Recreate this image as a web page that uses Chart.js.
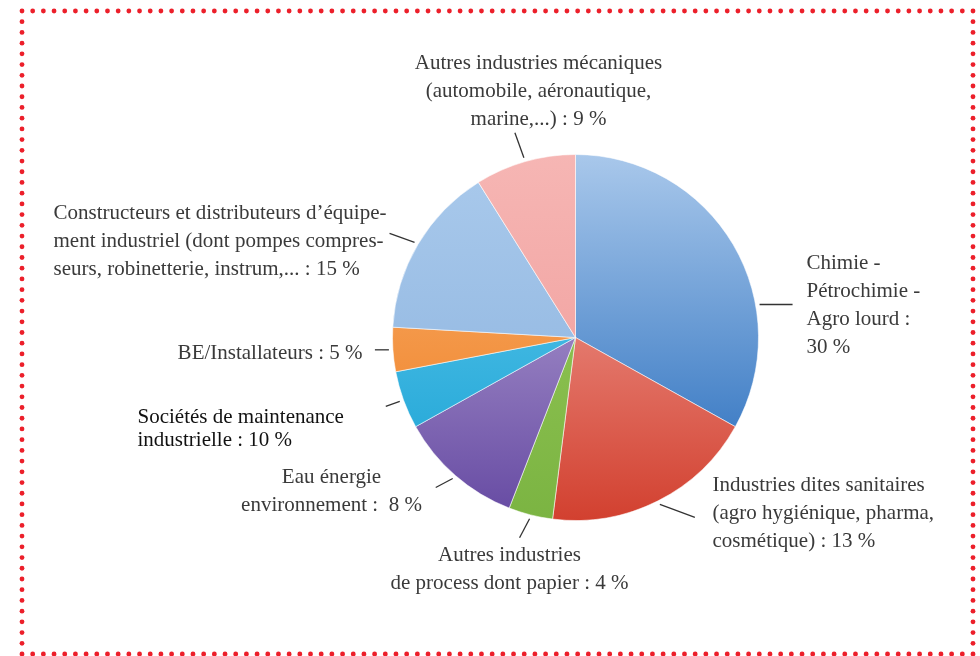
<!DOCTYPE html>
<html>
<head>
<meta charset="utf-8">
<script src="https://cdn.jsdelivr.net/npm/chart.js@4.4.1/dist/chart.umd.min.js"></script>
<style>
  html, body { margin: 0; padding: 0; background: #fff; }
  #wrap { position: relative; width: 980px; height: 656px; }
</style>
</head>
<body>
<div id="wrap"><canvas id="graficoSecteurs"></canvas></div>
<script>
const secteurs = [
    'Chimie - Pétrochimie - Agro lourd',
    'Industries dites sanitaires',
    'Autres industries de process',
    'Eau énergie environnement',
    'Sociétés de maintenance industrielle',
    'BE/Installateurs',
    "Constructeurs et distributeurs d'équipement industriel",
    'Autres industries mécaniques'
]
const parts = [33.1, 18.9, 3.9, 11.0, 5.1, 3.9, 15.2, 8.9]
const etiquettes = [
    ['Chimie -', 'Pétrochimie -', 'Agro lourd :', '30 %'],
    ['Industries dites sanitaires', '(agro hygiénique, pharma,', 'cosmétique) : 13 %'],
    ['Autres industries', 'de process dont papier : 4 %'],
    ['Eau énergie', 'environnement :  8 %'],
    ['Sociétés de maintenance', 'industrielle : 10 %'],
    ['BE/Installateurs : 5 %'],
    ['Constructeurs et distributeurs d’équipe-', 'ment industriel (dont pompes compres-', 'seurs, robinetterie, instrum,... : 15 %'],
    ['Autres industries mécaniques', '(automobile, aéronautique,', 'marine,...) : 9 %']
]

// couleurs (haut -> bas du disque)
const couleursHaut = ['#a9c8eb', '#f6b2ab', '#9acb5c', '#c4b4de', '#66cdef', '#f9b272', '#aacaec', '#f6b6b4']
const couleursBas = ['#1f67ba', '#d2402f', '#7bb442', '#6549a2', '#17a0d3', '#ee7b1c', '#88b0dd', '#ef9896']

// placement des etiquettes (par rapport au centre du disque)
const placement = [
    { at: 0.67, trait: [33, 0], texte: [231, -69], align: 'left' },
    { trait: [35, 13], texte: [137, 153], align: 'left' },
    { trait: [-10, 19], texte: [-66, 223], align: 'center' },
    { trait: [-17, 9], texte: [-244, 145], align: 'center' },
    { trait: [-14, 5], texte: [-438, 85], align: 'left', noir: true },
    { trait: [-14, 0], texte: [-213, 21], align: 'right' },
    { trait: [-25, -9], texte: [-522, -119], align: 'left' },
    { trait: [-9, -25], texte: [-37, -269], align: 'center' }
]

function degrade(ctx, i) {
    const chart = ctx.chart
    const area = chart.chartArea
    if (!area) return couleursHaut[i]
    const cy = (area.top + area.bottom) / 2
    const r = Math.min(area.width, area.height) / 2
    const g = chart.ctx.createLinearGradient(0, cy - r, 0, cy + r)
    g.addColorStop(0, couleursHaut[i])
    g.addColorStop(1, couleursBas[i])
    return g
}

const cadrePointille = {
    id: 'cadrePointille',
    beforeDraw(chart) {
        const c = chart.ctx
        c.save()
        c.fillStyle = '#ec1f2a'
        const x0 = 22, x1 = 973, y0 = 11, y1 = 654
        const nx = 89, ny = 60
        for (let k = 0; k <= nx; k++) {
            const x = x0 + (x1 - x0) * k / nx
            c.beginPath(); c.arc(x, y0, 2.4, 0, Math.PI * 2); c.fill()
            c.beginPath(); c.arc(x, y1, 2.4, 0, Math.PI * 2); c.fill()
        }
        for (let k = 1; k < ny; k++) {
            const y = y0 + (y1 - y0) * k / ny
            c.beginPath(); c.arc(x0, y, 2.4, 0, Math.PI * 2); c.fill()
            c.beginPath(); c.arc(x1, y, 2.4, 0, Math.PI * 2); c.fill()
        }
        c.restore()
    }
}

const etiquettesExternes = {
    id: 'etiquettesExternes',
    afterDatasetsDraw(chart) {
        const c = chart.ctx
        const arcs = chart.getDatasetMeta(0).data
        c.save()
        arcs.forEach((arc, i) => {
            const p = placement[i]
            const frac = p.at !== undefined ? p.at : 0.5
            const a = arc.startAngle + (arc.endAngle - arc.startAngle) * frac
            const r = arc.outerRadius + 4
            const sx = arc.x + Math.cos(a) * r
            const sy = arc.y + Math.sin(a) * r
            c.strokeStyle = '#333'
            c.lineWidth = 1.3
            c.beginPath()
            c.moveTo(sx, sy)
            c.lineTo(sx + p.trait[0], sy + p.trait[1])
            c.stroke()

            c.fillStyle = p.noir ? '#111' : '#3a3a3a'
            c.font = '21px "Liberation Serif"'
            c.textAlign = p.align
            c.textBaseline = 'alphabetic'
            const lh = p.noir ? 23 : 28
            etiquettes[i].forEach((ligne, k) => {
                c.fillText(ligne, arc.x + p.texte[0], arc.y + p.texte[1] + k * lh)
            })
        })
        c.restore()
    }
}

const dataSecteurs = {
    labels: secteurs,
    datasets: [{
        data: parts,
        backgroundColor: (ctx) => degrade(ctx, ctx.dataIndex),
        borderColor: 'rgba(255,255,255,0.55)',
        borderWidth: 1,
        hoverOffset: 0
    }]
}
const configSecteurs = {
    type: 'pie',
    data: dataSecteurs,
    options: {
        responsive: true,
        maintainAspectRatio: false,
        animation: false,
        layout: { padding: { top: 154, bottom: 135, left: 392, right: 221 } },
        plugins: {
            legend: { display: false },
            tooltip: { enabled: false }
        }
    },
    plugins: [cadrePointille, etiquettesExternes]
}
var graficoSecteurs = new Chart(
    document.getElementById('graficoSecteurs'),
    configSecteurs
)
</script>
</body>
</html>
